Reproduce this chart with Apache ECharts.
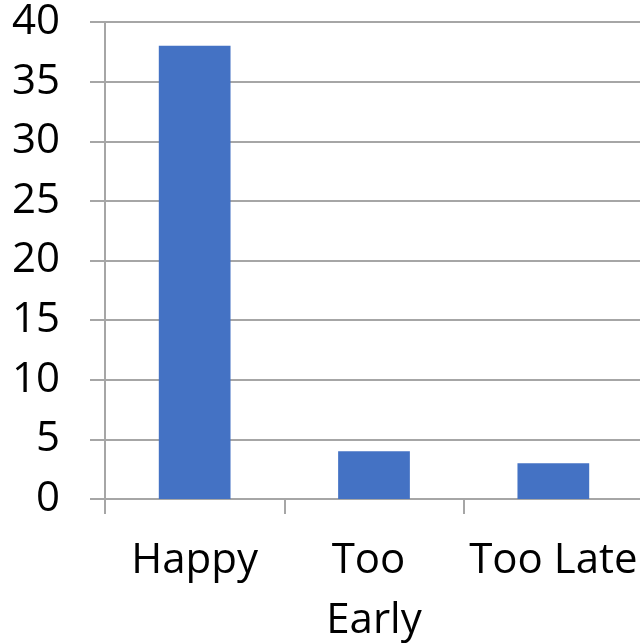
<!DOCTYPE html>
<html>
<head>
<meta charset="utf-8">
<script src="https://cdn.jsdelivr.net/npm/echarts@6/dist/echarts.min.js"></script>
<style>
  html, body { margin: 0; padding: 0; background: #fff; }
  #chart { width: 640px; height: 643px; }
</style>
</head>
<body>
<div id="chart"></div>
<script>
// Responses by timing
const categories = ['Happy', 'Too Early', 'Too Late'];
const counts = [38, 4, 3];
const yTicks = { min: 0, max: 40, interval: 5 };

const gridColor = '#a6a6a6';
const font = '"Open Sans", sans-serif';

const chart = echarts.init(document.getElementById('chart'), null, { renderer: 'canvas' });
chart.setOption({
  animation: false,
  grid: {
    left: 105, right: -3, top: 22, bottom: 144,
    containLabel: false, outerBoundsMode: 'none'
  },
  xAxis: {
    type: 'category',
    data: categories,
    axisLine: { lineStyle: { color: gridColor, width: 2 } },
    axisTick: { show: true, length: 15, lineStyle: { color: gridColor, width: 2 } },
    axisLabel: {
      color: '#000', fontFamily: font, fontSize: 42, margin: 32,
      lineHeight: 60, width: 176, overflow: 'break', interval: 0
    }
  },
  yAxis: {
    type: 'value',
    min: yTicks.min, max: yTicks.max, interval: yTicks.interval,
    axisLine: { show: true, lineStyle: { color: gridColor, width: 2 } },
    axisTick: { show: true, length: 15, lineStyle: { color: gridColor, width: 2 } },
    splitLine: { lineStyle: { color: gridColor, width: 2 } },
    axisLabel: { color: '#000', fontFamily: font, fontSize: 42, margin: 45 }
  },
  series: [{
    type: 'bar',
    data: counts,
    barWidth: '40%',
    itemStyle: { color: '#4472C4' }
  }]
});
</script>
</body>
</html>
